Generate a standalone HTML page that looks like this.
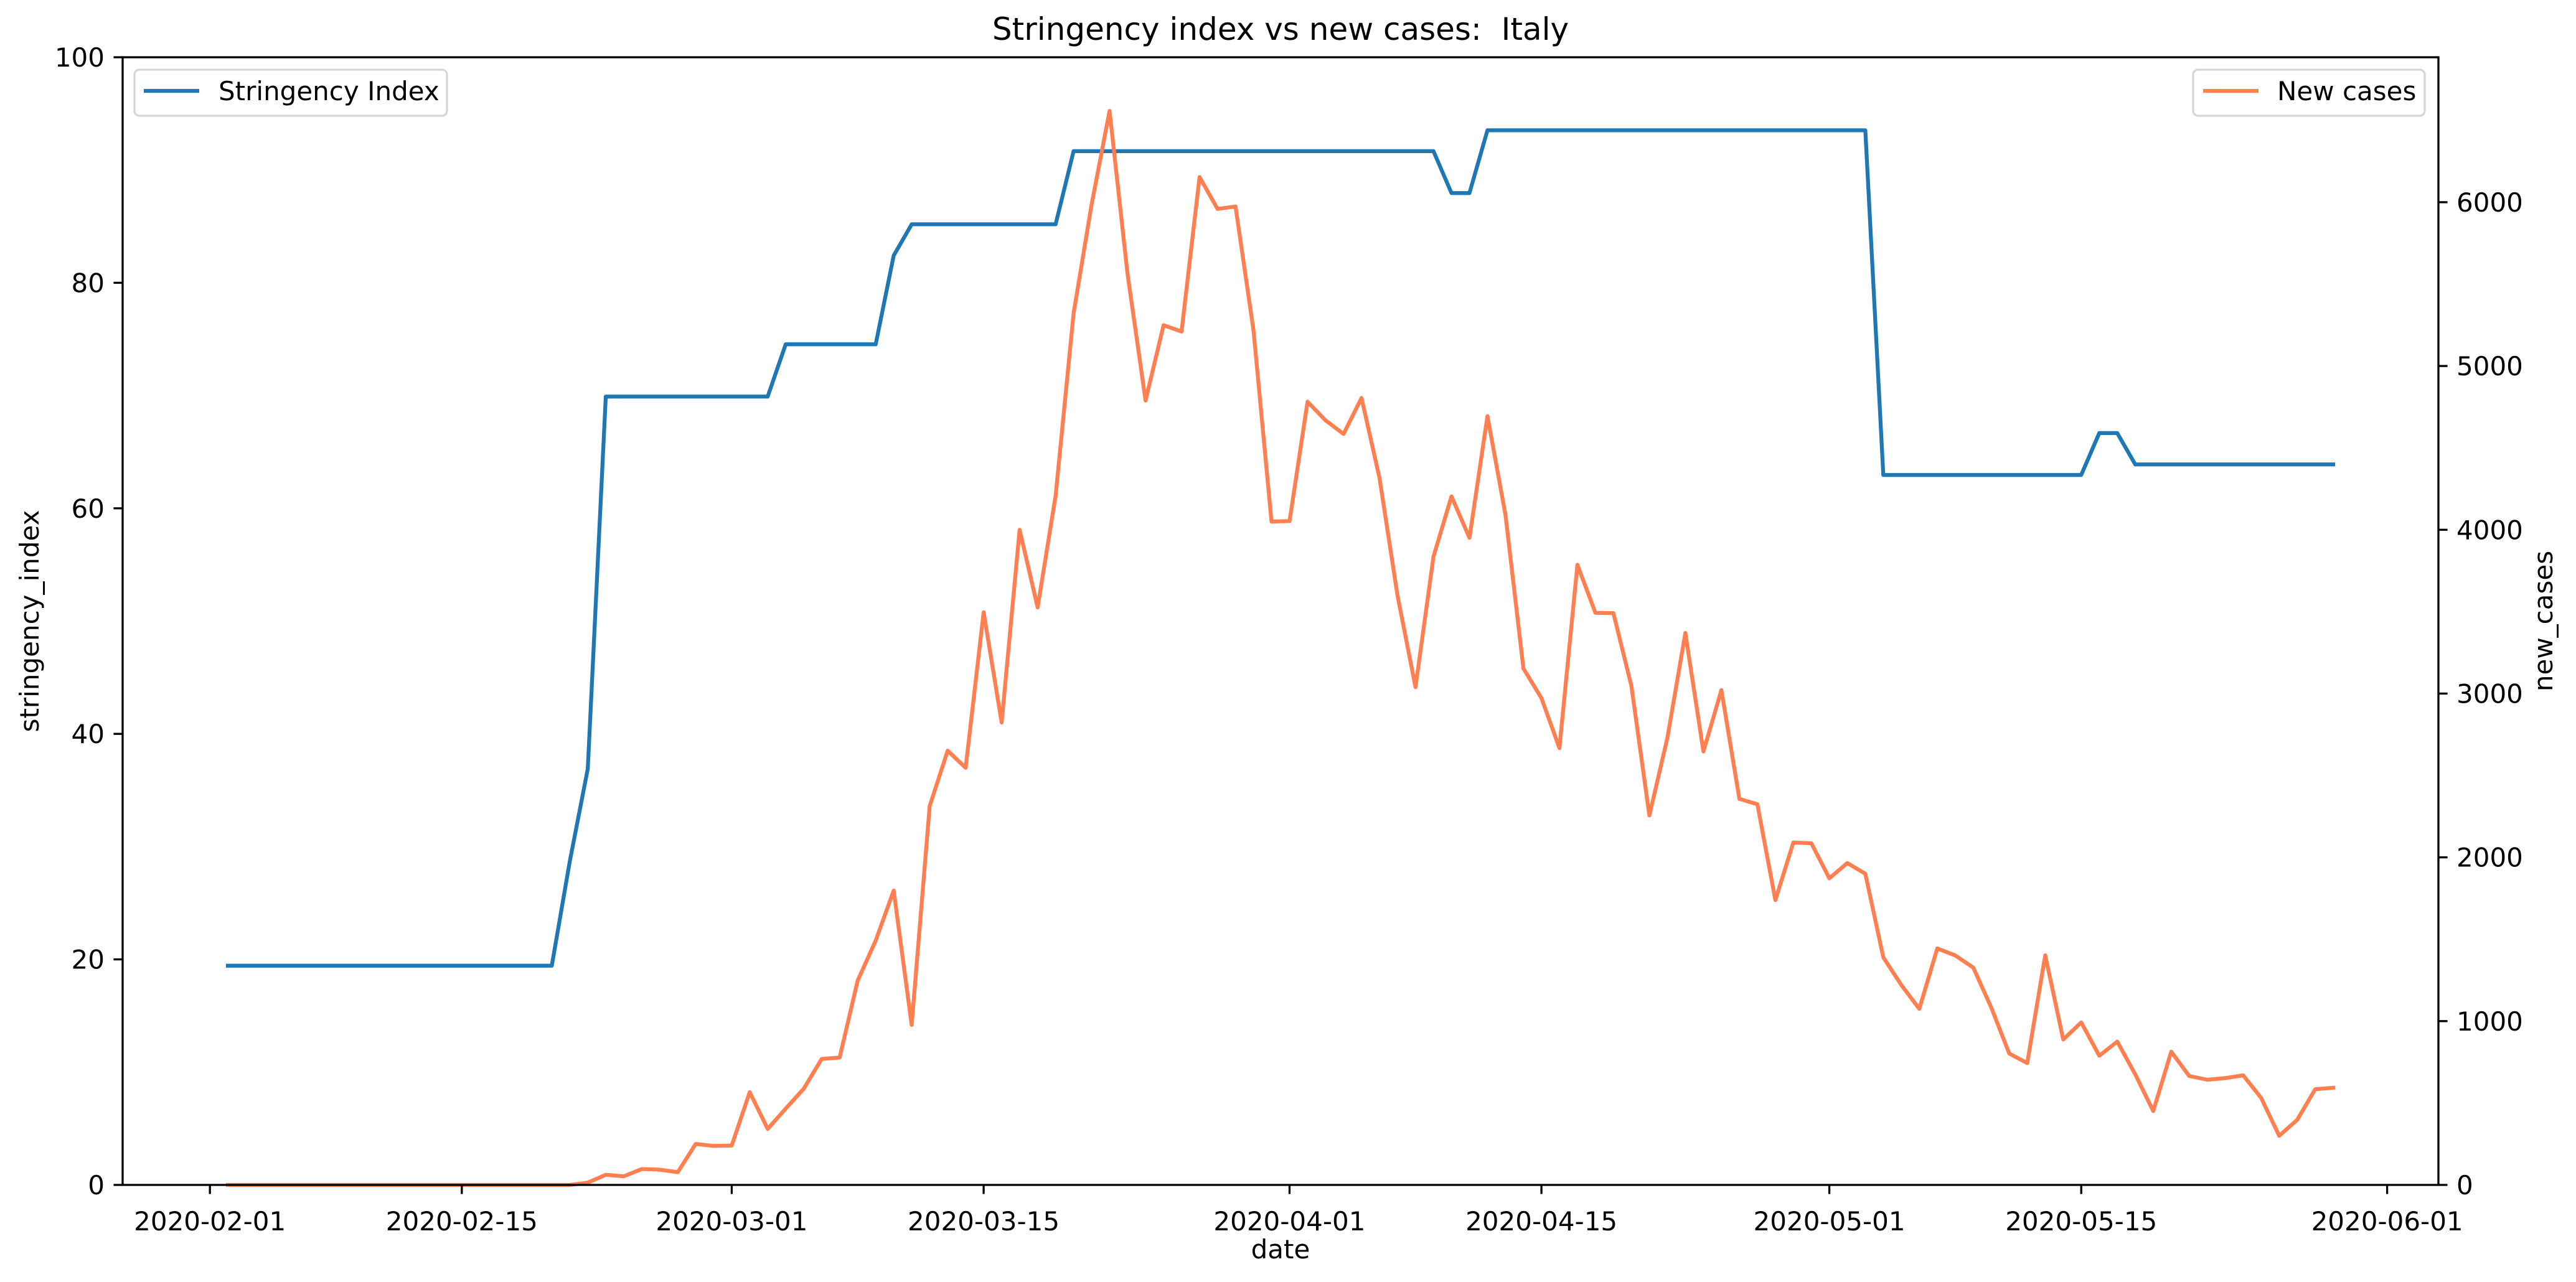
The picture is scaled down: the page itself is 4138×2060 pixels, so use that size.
<!DOCTYPE html>
<html><head><meta charset="utf-8">
<style>
html,body{margin:0;padding:0;background:#fff;}
svg{display:block;font-family:"DejaVu Sans","Liberation Sans",sans-serif;}
</style></head>
<body>
<svg id="chart" width="4138" height="2060" viewBox="0 0 4138 2060" xmlns="http://www.w3.org/2000/svg">
<rect width="4138" height="2060" fill="#fff"/>
<text x="2057" y="64" font-size="50" text-anchor="middle" xml:space="preserve" style="white-space:pre">Stringency index vs new cases:  Italy</text>
<g id="grid"></g>
<g id="series"></g>
<rect x="197" y="92" width="3720" height="1812" fill="none" stroke="#000" stroke-width="3.3"/>
<g id="axes"></g>
<text x="2057" y="2022" font-size="42" text-anchor="middle">date</text>
<text transform="translate(62,998) rotate(-90)" font-size="42" text-anchor="middle">stringency_index</text>
<text transform="translate(4100,998) rotate(-90)" font-size="42" text-anchor="middle">new_cases</text>
<g>
<rect x="216" y="112" width="502" height="74" rx="8" fill="#fff" fill-opacity="0.8" stroke="#d6d6d6" stroke-width="3.3"/>
<line x1="231" y1="146" x2="320" y2="146" stroke="#1f77b4" stroke-width="6.25"/>
<text x="351" y="161" font-size="42">Stringency Index</text>
</g>
<g>
<rect x="3523" y="112" width="372" height="74" rx="8" fill="#fff" fill-opacity="0.8" stroke="#d6d6d6" stroke-width="3.3"/>
<line x1="3539" y1="146" x2="3628" y2="146" stroke="#ff7f50" stroke-width="6.25"/>
<text x="3658" y="161" font-size="42">New cases</text>
</g>
</svg>
<script>
// day offsets from 2020-02-01
const tickDays = [0, 14, 29, 43, 60, 74, 90, 104, 121];
const tickLabels = ["2020-02-01","2020-02-15","2020-03-01","2020-03-15","2020-04-01","2020-04-15","2020-05-01","2020-05-15","2020-06-01"];
const leftTicks = [0, 20, 40, 60, 80, 100];
const rightTicks = [0, 1000, 2000, 3000, 4000, 5000, 6000];
const firstDay = 1;
const stringency = [19.44,19.44,19.44,19.44,19.44,19.44,19.44,19.44,19.44,19.44,19.44,19.44,19.44,19.44,19.44,19.44,19.44,19.44,19.44,
28.7,36.9,
69.91,69.91,69.91,69.91,69.91,69.91,69.91,69.91,69.91,69.91,
74.54,74.54,74.54,74.54,74.54,74.54,
82.41,
85.19,85.19,85.19,85.19,85.19,85.19,85.19,85.19,85.19,
91.67,91.67,91.67,91.67,91.67,91.67,91.67,91.67,91.67,91.67,91.67,91.67,91.67,91.67,91.67,91.67,91.67,91.67,91.67,91.67,91.67,
87.96,87.96,
93.52,93.52,93.52,93.52,93.52,93.52,93.52,93.52,93.52,93.52,93.52,93.52,93.52,93.52,93.52,93.52,93.52,93.52,93.52,93.52,93.52,93.52,
62.96,62.96,62.96,62.96,62.96,62.96,62.96,62.96,62.96,62.96,62.96,62.96,
66.67,66.67,
63.89,63.89,63.89,63.89,63.89,63.89,63.89,63.89,63.89,63.89,63.89,63.89];
const newCases = [0,0,0,0,0,0,0,0,0,0,0,0,0,0,0,0,0,0,0,0,
14,62,53,97,93,78,250,238,240,
566,342,466,587,769,778,1247,1492,1797,977,2313,2651,2547,3497,2823,4000,3526,4207,5322,5986,6557,
5560,4789,5249,5210,6153,5959,5974,5217,4050,4053,4782,4668,4585,4805,4316,3599,3039,3836,4204,3951,4694,4092,
3153,2972,2667,3786,3493,3491,3047,2256,2729,3370,2646,3021,2357,2324,1739,2091,2086,1872,1965,1900,
1389,1221,1075,1444,1401,1327,1083,802,744,1402,888,992,789,875,675,451,813,665,642,652,669,531,300,397,584,593];

const PL=197, PR=3917, PT=92, PB=1904;
const XMIN=-4.85, XMAX=123.85, LMAX=100, RMAX=6885;
const NS="http://www.w3.org/2000/svg";
function xs(d){return PL+(d-XMIN)/(XMAX-XMIN)*(PR-PL);}
function yl(v){return PB-v/LMAX*(PB-PT);}
function yr(v){return PB-v/RMAX*(PB-PT);}
function mk(tag,attrs,parent){const e=document.createElementNS(NS,tag);for(const k in attrs)e.setAttribute(k,attrs[k]);parent.appendChild(e);return e;}
const axes=document.getElementById('axes');
const series=document.getElementById('series');

tickDays.forEach((d,i)=>{
  const x=xs(d);
  const t=mk('line',{x1:x,y1:PB,x2:x,y2:PB+14.6,stroke:'#000','stroke-width':3.3},axes);
  
  
  const l=mk('text',{x:x,y:PB+73,'font-size':42,'text-anchor':'middle'},axes);
  l.textContent=tickLabels[i];
  
  
});
leftTicks.forEach(v=>{
  const y=yl(v);
  const t=mk('line',{x1:PL-14.6,y1:y,x2:PL,y2:y,stroke:'#000','stroke-width':3.3},axes);
  
  
  const l=mk('text',{x:PL-29,y:y+15,'font-size':42,'text-anchor':'end'},axes);
  l.textContent=String(v);
  
  
});
rightTicks.forEach(v=>{
  const y=yr(v);
  const t=mk('line',{x1:PR,y1:y,x2:PR+14.6,y2:y,stroke:'#000','stroke-width':3.3},axes);
  
  
  const l=mk('text',{x:PR+29,y:y+15,'font-size':42,'text-anchor':'start'},axes);
  l.textContent=String(v);
  
  
});
const sPts=stringency.map((v,i)=>xs(firstDay+i).toFixed(1)+','+yl(v).toFixed(1)).join(' ');
const sLine=mk('polyline',{points:sPts,fill:'none',stroke:'#1f77b4','stroke-width':6.25,'stroke-linejoin':'round','stroke-linecap':'square'},series);


const cPts=newCases.map((v,i)=>xs(firstDay+i).toFixed(1)+','+yr(v).toFixed(1)).join(' ');
const cLine=mk('polyline',{points:cPts,fill:'none',stroke:'#ff7f50','stroke-width':6.25,'stroke-linejoin':'round','stroke-linecap':'square'},series);


</script>
</body></html>
